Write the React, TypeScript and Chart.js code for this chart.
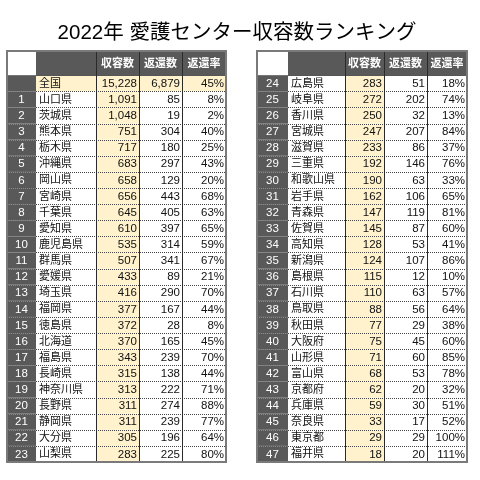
import React, { useEffect, useRef } from 'react';
import { Chart, registerables } from 'chart.js';

Chart.register(...registerables);

const titleText = '2022年 愛護センター収容数ランキング';
const columnHeaders = ['収容数', '返還数', '返還率'];
const nationalLabel = '全国';
const nationalValues = [15228, 6879, 45];

const prefectures = [
  '山口県', '茨城県', '熊本県', '栃木県', '沖縄県', '岡山県', '宮崎県', '千葉県', '愛知県', '鹿児島県',
  '群馬県', '愛媛県', '埼玉県', '福岡県', '徳島県', '北海道', '福島県', '長崎県', '神奈川県', '長野県',
  '静岡県', '大分県', '山梨県', '広島県', '岐阜県', '香川県', '宮城県', '滋賀県', '三重県', '和歌山県',
  '岩手県', '青森県', '佐賀県', '高知県', '新潟県', '島根県', '石川県', '鳥取県', '秋田県', '大阪府',
  '山形県', '富山県', '京都府', '兵庫県', '奈良県', '東京都', '福井県',
];
const intake = [
  1091, 1048, 751, 717, 683, 658, 656, 645, 610, 535,
  507, 433, 416, 377, 372, 370, 343, 315, 313, 311,
  311, 305, 283, 283, 272, 250, 247, 233, 192, 190,
  162, 147, 145, 128, 124, 115, 110, 88, 77, 75,
  71, 68, 62, 59, 33, 29, 18,
];
const returned = [
  85, 19, 304, 180, 297, 129, 443, 405, 397, 314,
  341, 89, 290, 167, 28, 165, 239, 138, 222, 274,
  239, 196, 225, 51, 202, 32, 207, 86, 146, 63,
  106, 119, 87, 53, 107, 12, 63, 56, 29, 45,
  60, 53, 20, 30, 17, 29, 20,
];
const returnRate = [
  8, 2, 40, 25, 43, 20, 68, 63, 65, 59,
  67, 21, 70, 44, 8, 45, 70, 44, 71, 88,
  77, 64, 80, 18, 74, 13, 84, 37, 76, 33,
  65, 81, 60, 41, 86, 10, 57, 64, 38, 60,
  85, 78, 32, 51, 52, 100, 111,
];
const ranks = prefectures.map((_, i) => String(i + 1));

type Row = { rank: string; name: string; values: number[]; highlight: boolean };
type Table = { edges: number[]; rows: Row[] };

const leftCount = 23;

const buildRows = (from: number, to: number): Row[] =>
  prefectures.slice(from, to).map((name, k) => {
    const i = from + k;
    return { rank: ranks[i], name, values: [intake[i], returned[i], returnRate[i]], highlight: false };
  });

const tables: Table[] = [
  {
    edges: [0, 29, 89, 132, 175, 219],
    rows: [
      { rank: '', name: nationalLabel, values: nationalValues, highlight: true },
      ...buildRows(0, leftCount),
    ],
  },
  {
    edges: [250, 281, 338, 377, 420, 460],
    rows: buildRows(leftCount, prefectures.length),
  },
];

const FONT = "'Liberation Sans', 'Noto Sans CJK JP', sans-serif";
const DARK = '#595959';
const YELLOW = '#fff2cc';

const fmt = (v: number, col: number) => (col === 2 ? `${v}%` : v.toLocaleString('en-US'));

const tablePlugin = {
  id: 'rankingTable',
  afterDatasetsDraw(chart: any) {
    const { ctx } = chart;
    const xs = chart.scales.x;
    const ys = chart.scales.y;
    const px = (v: number) => xs.getPixelForValue(v);
    const py = (v: number) => ys.getPixelForValue(v);
    const crisp = (v: number) => Math.round(v) + 0.5;

    ctx.save();
    tables.forEach((t) => {
      const e = t.edges.map(px);
      const n = t.rows.length;
      const top = py(-1.5);
      const hb = py(0);
      const bottom = py(n);

      // header
      ctx.fillStyle = '#ffffff';
      ctx.fillRect(e[0], top, e[1] - e[0], hb - top);
      ctx.fillStyle = DARK;
      ctx.fillRect(e[1], top, e[5] - e[1], hb - top);
      ctx.fillStyle = '#ffffff';
      ctx.font = `bold 11px ${FONT}`;
      ctx.textAlign = 'center';
      ctx.textBaseline = 'middle';
      columnHeaders.forEach((h, c) => {
        ctx.fillText(h, (e[2 + c] + e[3 + c]) / 2, (top + hb) / 2 + 1);
      });

      // body
      t.rows.forEach((r, i) => {
        const y0 = py(i);
        const y1 = py(i + 1);
        const ym = (y0 + y1) / 2 + 0.5;
        ctx.fillStyle = DARK;
        ctx.fillRect(e[0], y0, e[1] - e[0], y1 - y0);
        ctx.fillStyle = r.highlight ? YELLOW : '#ffffff';
        ctx.fillRect(e[1], y0, e[2] - e[1], y1 - y0);
        ctx.fillStyle = YELLOW;
        ctx.fillRect(e[2], y0, e[3] - e[2], y1 - y0);
        ctx.fillStyle = r.highlight ? YELLOW : '#ffffff';
        ctx.fillRect(e[3], y0, e[5] - e[3], y1 - y0);

        ctx.font = `11.5px ${FONT}`;
        ctx.fillStyle = '#ffffff';
        ctx.textAlign = 'center';
        ctx.fillText(r.rank, (e[0] + e[1]) / 2, ym);

        ctx.font = `11px ${FONT}`;
        ctx.fillStyle = '#111111';
        ctx.textAlign = 'left';
        ctx.fillText(r.name, e[1] + 3, ym);

        ctx.font = `11.5px ${FONT}`;
        ctx.textAlign = 'right';
        r.values.forEach((v, c) => {
          ctx.fillText(fmt(v, c), e[3 + c] - 2, ym);
        });
      });

      // row separators
      ctx.lineWidth = 1;
      ctx.setLineDash([1, 1]);
      for (let i = 1; i < n; i++) {
        const yy = crisp(py(i));
        ctx.strokeStyle = '#8a8a8a';
        ctx.beginPath();
        ctx.moveTo(e[0], yy);
        ctx.lineTo(e[1], yy);
        ctx.stroke();
        ctx.strokeStyle = '#444444';
        ctx.beginPath();
        ctx.moveTo(e[1], yy);
        ctx.lineTo(e[5], yy);
        ctx.stroke();
      }
      ctx.setLineDash([]);
      ctx.strokeStyle = '#555555';
      ctx.beginPath();
      ctx.moveTo(e[1], crisp(hb));
      ctx.lineTo(e[5], crisp(hb));
      ctx.stroke();

      // vertical lines
      ctx.strokeStyle = '#2a2a2a';
      [2, 3, 4].forEach((k) => {
        const xx = crisp(e[k]);
        ctx.beginPath();
        ctx.moveTo(xx, top);
        ctx.lineTo(xx, bottom);
        ctx.stroke();
      });

      // outer border
      ctx.strokeStyle = '#7a7a7a';
      ctx.lineWidth = 2;
      ctx.strokeRect(Math.round(e[0]), Math.round(top), Math.round(e[5] - e[0]), Math.round(bottom - top));
    });
    ctx.restore();
  },
};

export default function App() {
  const ref = useRef<HTMLCanvasElement | null>(null);

  useEffect(() => {
    document.body.style.margin = '0';
    const canvas = ref.current;
    if (!canvas) return;
    const chart = new Chart(canvas, {
      type: 'scatter',
      data: { datasets: [{ data: [] }] },
      options: {
        animation: false,
        responsive: false,
        layout: { padding: { top: 0, left: 7, right: 13, bottom: 18 } },
        scales: {
          x: { type: 'linear', min: 0, max: 460, display: false },
          y: { type: 'linear', min: -1.5, max: 24, reverse: true, display: false },
        },
        plugins: {
          legend: { display: false },
          tooltip: { enabled: false },
          title: {
            display: true,
            text: titleText,
            color: '#000000',
            font: { size: 20.5, family: "'Liberation Sans', 'Noto Sans CJK JP', sans-serif", weight: 'normal', lineHeight: 1.2 },
            padding: { top: 21, bottom: 5.4 },
          },
        },
      },
      plugins: [tablePlugin],
    });
    return () => chart.destroy();
  }, []);

  return (
    <div style={{ position: 'absolute', left: 0, top: 0, width: 480, height: 480, background: '#fff' }}>
      <canvas ref={ref} width={480} height={480} style={{ width: 480, height: 480 }} />
    </div>
  );
}
